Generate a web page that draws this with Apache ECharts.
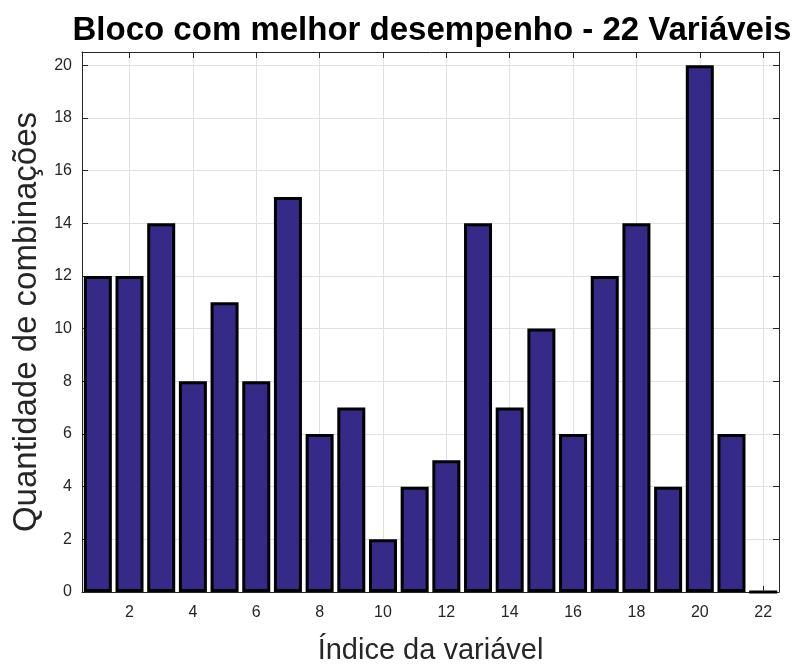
<!DOCTYPE html>
<html>
<head>
<meta charset="utf-8">
<script src="https://cdn.jsdelivr.net/npm/echarts@6/dist/echarts.min.js"></script>
<style>
  html, body { margin: 0; padding: 0; background: #fff; }
  #chart { width: 800px; height: 665px; }
</style>
</head>
<body>
<div id="chart"></div>
<script>
// índices das variáveis e quantidade de combinações
const indices = [1, 2, 3, 4, 5, 6, 7, 8, 9, 10, 11, 12, 13, 14, 15, 16, 17, 18, 19, 20, 21, 22]
const combinacoes = [12, 12, 14, 8, 11, 8, 15, 6, 7, 2, 4, 5, 14, 7, 10, 6, 12, 14, 4, 20, 6, 0]
const xTicks = [2, 4, 6, 8, 10, 12, 14, 16, 18, 20, 22]
const yTicks = [0, 2, 4, 6, 8, 10, 12, 14, 16, 18, 20]

const chart = echarts.init(document.getElementById('chart'))
const font = '"Liberation Sans", Arial, sans-serif'
const textColor = '#262626'

// eixo com caixa (estilo matlab)
const xAxisBase = (pos, showLabel) => ({
  type: 'value',
  position: pos,
  min: 0.5,
  max: 22.5,
  axisLine: { show: true, onZero: false, lineStyle: { color: '#262626', width: 1 } },
  axisTick: { show: true, inside: true, length: 6, customValues: xTicks, lineStyle: { color: '#262626' } },
  axisLabel: {
    show: showLabel, customValues: xTicks, color: textColor, fontSize: 16, fontFamily: font, margin: 13,
  },
  splitLine: { show: showLabel, lineStyle: { color: '#e0e0e0', width: 1 } },
})

const yAxisBase = (pos, showLabel) => ({
  type: 'value',
  position: pos,
  min: 0,
  max: 20.5,
  axisLine: { show: true, lineStyle: { color: '#262626', width: 1 } },
  axisTick: { show: true, inside: true, length: 6, customValues: yTicks, lineStyle: { color: '#262626' } },
  axisLabel: {
    show: showLabel, customValues: yTicks, color: textColor, fontSize: 16, fontFamily: font, margin: 10,
  },
  splitLine: { show: showLabel, lineStyle: { color: '#e0e0e0', width: 1 } },
})

const xBottom = xAxisBase('bottom', true)
xBottom.name = 'Índice da variável'
xBottom.nameLocation = 'middle'
xBottom.nameGap = 44
xBottom.nameTextStyle = { fontSize: 29, color: textColor, fontFamily: font }

const yLeft = yAxisBase('left', true)
yLeft.name = 'Quantidade de combinações'
yLeft.nameLocation = 'middle'
yLeft.nameGap = 38
yLeft.nameTextStyle = { fontSize: 33, color: textColor, fontFamily: font }

const option = {
  animation: false,
  backgroundColor: '#fff',
  title: {
    text: 'Bloco com melhor desempenho - 22 Variáveis',
    left: 427,
    textAlign: 'center',
    top: 9,
    textStyle: { fontSize: 33, fontWeight: 'bold', color: '#000', fontFamily: font },
  },
  grid: { left: 82, right: 21, top: 52, bottom: 73, outerBoundsMode: 'none' },
  xAxis: [xBottom, xAxisBase('top', false)],
  yAxis: [yLeft, yAxisBase('right', false)],
  series: [
    {
      type: 'bar',
      xAxisIndex: 0,
      yAxisIndex: 0,
      data: indices.map((v, i) => [v, combinacoes[i]]),
      barWidth: 28,
      itemStyle: { color: '#352a87', borderColor: '#000', borderWidth: 3 },
    },
  ],
}

chart.setOption(option)
</script>
</body>
</html>
